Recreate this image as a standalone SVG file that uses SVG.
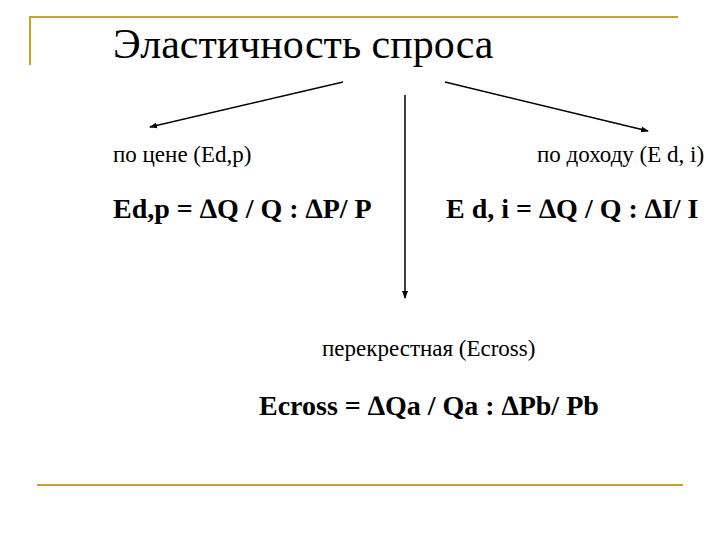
<svg xmlns="http://www.w3.org/2000/svg" width="720" height="540" viewBox="0 0 720 540">
<style>
text{font-family:'Liberation Serif','DejaVu Serif',serif;fill:#000}
.n{font-size:23px}
.b{font-size:28px;font-weight:bold}
.g{stroke:#c8a428;stroke-width:2;fill:none}
.c{stroke:#000;stroke-width:1.5;fill:none;marker-end:url(#ah)}
</style>
<defs><marker id="ah" markerWidth="8" markerHeight="8" refX="7" refY="4" orient="auto" markerUnits="userSpaceOnUse"><path d="M0,1 L8,4 L0,7 z" fill="#000"/></marker></defs>
<rect width="720" height="540" fill="#fff"/>
<g id="frame">
<path class="g" d="M30,65 V17 H678"/>
<path class="g" d="M37,485 H683"/>
</g>
<g id="title"><text x="113" y="58" font-size="42">Эластичность спроса</text></g>
<g id="price"><text class="n" x="113" y="162">по цене (Ed,p)</text><text class="b" x="113" y="218">Ed,p = ∆Q / Q : ∆P/ P</text></g>
<g id="income"><text class="n" x="537" y="162">по доходу (E d, i)</text><text class="b" x="446" y="218">E d, i = ∆Q / Q : ∆I/ I</text></g>
<g id="cross"><text class="n" x="322" y="356">перекрестная (Ecross)</text><text class="b" x="259" y="415">Ecross = ∆Qa / Qa : ∆Pb/ Pb</text></g>
<g id="connectors">
<line class="c" x1="343" y1="82" x2="150" y2="127"/>
<line class="c" x1="445" y1="82" x2="648" y2="131"/>
<line class="c" x1="405" y1="95" x2="405" y2="298"/>
</g>
</svg>
